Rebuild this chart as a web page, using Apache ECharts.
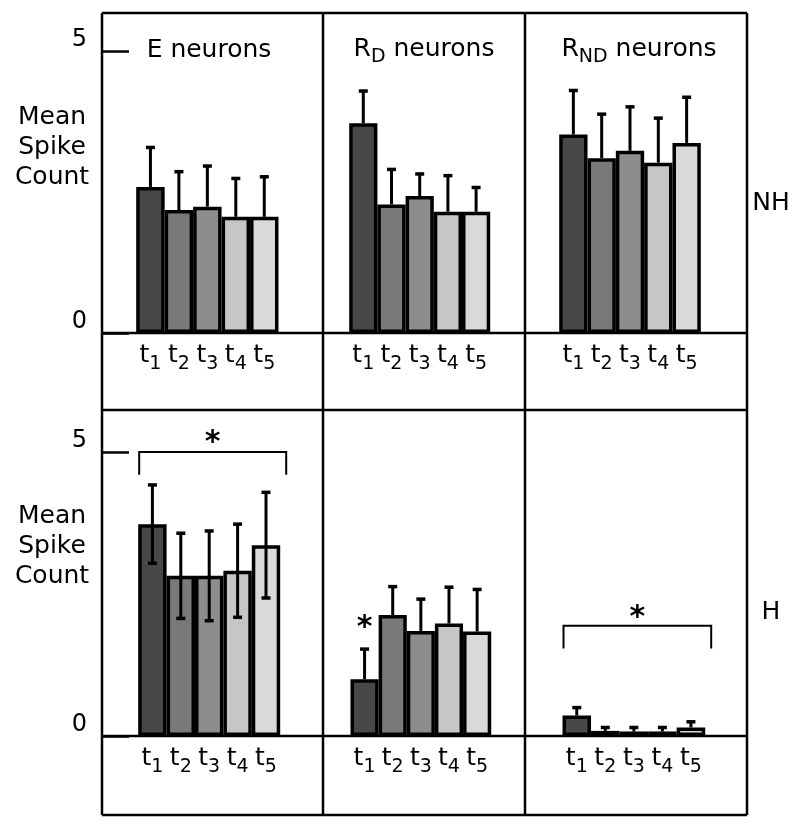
<!DOCTYPE html>
<html><head><meta charset="utf-8">
<script src="https://cdn.jsdelivr.net/npm/echarts@6/dist/echarts.min.js"></script>
<style>html,body{margin:0;padding:0;background:#fff}#c{width:800px;height:826px}</style>
</head><body><div id="c"></div><script>
// ---------- data ----------
const categories = ['t1', 't2', 't3', 't4', 't5'];
const barColors = ['#484848', '#797979', '#8d8d8d', '#c6c6c6', '#d9d9d9'];
const yTickValues = [0, 5];
const titleMain = ['E', 'R', 'R'];
const titleSub = ['', 'D', 'ND'];
const titleSuffix = ' neurons';
const rowLabels = ['NH', 'H'];
const yAxisTitle = 'Mean\nSpike\nCount';

// NH row (means and SD)
const nhE = [2.59, 2.18, 2.24, 2.06, 2.06];
const nhESd = [0.70, 0.68, 0.72, 0.68, 0.71];
const nhRD = [3.72, 2.28, 2.43, 2.15, 2.15];
const nhRDSd = [0.57, 0.62, 0.39, 0.64, 0.43];
const nhRND = [3.52, 3.10, 3.23, 3.02, 3.37];
const nhRNDSd = [0.78, 0.78, 0.78, 0.79, 0.81];
// H row
const hE = [3.73, 2.82, 2.82, 2.91, 3.36];
const hESd = [0.69, 0.75, 0.79, 0.82, 0.93];
const hRD = [1.00, 2.13, 1.85, 1.98, 1.84];
const hRDSd = [0.53, 0.50, 0.56, 0.64, 0.74];
const hRND = [0.36, 0.09, 0.08, 0.08, 0.15];
const hRNDSd = [0.14, 0.06, 0.07, 0.07, 0.10];

// significance annotations: [fromIndex, toIndex, bracketValue, dropValue, starValue]
const sigBracketHE = [0, 4, 5.0, 4.6, 5.15];
const sigBracketHRND = [0, 4, 1.94, 1.54, 2.08];
const sigStarHRD = [0, 1.9];

// ---------- layout ----------
const FONT = 'DejaVu Sans';
const panels = [
  {left: 136.2, width: 142.3, top: 51, height: 282, mean: nhE, sd: nhESd, two: false, yAxis: true},
  {left: 349.2, width: 141.0, top: 51, height: 282, mean: nhRD, sd: nhRDSd, two: false},
  {left: 559.2, width: 141.6, top: 51, height: 282, mean: nhRND, sd: nhRNDSd, two: false},
  {left: 138.2, width: 142.0, top: 452, height: 284, mean: hE, sd: hESd, two: true, yAxis: true},
  {left: 350.5, width: 140.7, top: 452, height: 284, mean: hRD, sd: hRDSd, two: false},
  {left: 562.5, width: 142.7, top: 452, height: 284, mean: hRND, sd: hRNDSd, two: false}
];
const TL = 102, TR = 747, TX1 = 323, TX2 = 525;

const grids = [], xAxes = [], yAxes = [], series = [];
panels.forEach((p, k) => {
  grids.push({left: p.left, top: p.top, width: p.width, height: p.height, containLabel: false});
  xAxes.push({
    type: 'category', gridIndex: k, data: categories,
    axisLine: {show: false}, axisTick: {show: false},
    axisLabel: {
      margin: 4, interval: 0,
      formatter: v => '{t|' + v.charAt(0) + '}{s|' + v.slice(1) + '}',
      rich: {
        t: {fontFamily: FONT, fontSize: 25, color: '#000'},
        s: {fontFamily: FONT, fontSize: 19, color: '#000', padding: [18, 0, 0, 0]}
      }
    }
  });
  yAxes.push({
    type: 'value', gridIndex: k, min: yTickValues[0], max: yTickValues[1], interval: yTickValues[1],
    show: !!p.yAxis, offset: p.left - TL,
    splitLine: {show: false},
    axisLine: {show: false},
    axisTick: {show: true, inside: true, length: 27, lineStyle: {color: '#000', width: 2.5}},
    axisLabel: {margin: 15, fontFamily: FONT, fontSize: 24, color: '#000',
      verticalAlign: 'bottom', lineHeight: 22}
  });
  series.push({
    type: 'bar', xAxisIndex: k, yAxisIndex: k, barCategoryGap: 0, barGap: 0,
    data: p.mean.map((v, i) => ({value: v, itemStyle: {color: barColors[i]}})),
    itemStyle: {borderColor: '#000', borderWidth: 3.5},
    emphasis: {disabled: true}, animation: false
  });
  series.push({
    type: 'custom', xAxisIndex: k, yAxisIndex: k, z: 5, animation: false,
    data: p.mean.map((v, i) => [i, v, p.sd[i]]),
    renderItem: (params, api) => {
      const i = api.value(0), m = api.value(1), s = api.value(2);
      const top = api.coord([i, m + s]);
      const bot = api.coord([i, p.two ? m - s : m]);
      const x = top[0], cw = 4.5;
      const st = {stroke: '#000', lineWidth: 3};
      const ch = [
        {type: 'line', shape: {x1: x, y1: top[1], x2: x, y2: bot[1]}, style: st},
        {type: 'line', shape: {x1: x - cw, y1: top[1], x2: x + cw, y2: top[1]}, style: {stroke: '#000', lineWidth: 3.5}}
      ];
      if (p.two) ch.push({type: 'line', shape: {x1: x - cw, y1: bot[1], x2: x + cw, y2: bot[1]}, style: {stroke: '#000', lineWidth: 3.5}});
      return {type: 'group', children: ch};
    }
  });
});

function bracketSeries(k, d) {
  return {
    type: 'custom', xAxisIndex: k, yAxisIndex: k, z: 6, animation: false, clip: false,
    data: [d],
    renderItem: (params, api) => {
      const a = api.coord([api.value(0), api.value(2)]);
      const b = api.coord([api.value(1), api.value(2)]);
      const yd = api.coord([api.value(0), api.value(3)])[1];
      const ys = api.coord([api.value(0), api.value(4)])[1];
      const bw = api.size([1, 0])[0];
      const xl = a[0] - bw / 2 + 1, xr = b[0] + bw / 2 + 6;
      return {type: 'group', children: [
        {type: 'polyline', shape: {points: [[xl, yd], [xl, a[1]], [xr, a[1]], [xr, yd]]},
         style: {stroke: '#000', lineWidth: 2, fill: null}},
        {type: 'text', style: {x: (xl + xr) / 2, y: ys, text: '*', fontFamily: FONT, fontSize: 30,
         fontWeight: 'bold', fill: '#000', align: 'center', verticalAlign: 'middle'}}
      ]};
    }
  };
}
series.push(bracketSeries(3, sigBracketHE));
series.push(bracketSeries(5, sigBracketHRND));
series.push({
  type: 'custom', xAxisIndex: 4, yAxisIndex: 4, z: 6, animation: false, clip: false,
  data: [sigStarHRD],
  renderItem: (params, api) => {
    const c = api.coord([api.value(0), api.value(1)]);
    return {type: 'text', style: {x: c[0], y: c[1], text: '*', fontFamily: FONT, fontSize: 30,
      fontWeight: 'bold', fill: '#000', align: 'center', verticalAlign: 'middle'}};
  }
});

// ---------- table lines & texts ----------
const LS = {stroke: '#000', lineWidth: 2.5};
const hLine = y => ({type: 'line', shape: {x1: TL, y1: y, x2: TR, y2: y}, style: LS, z: 10});
const vLine = x => ({type: 'line', shape: {x1: x, y1: 13, x2: x, y2: 815}, style: LS, z: 10});
const titleRich = {
  b: {fontFamily: FONT, fontSize: 25, color: '#000'},
  s: {fontFamily: FONT, fontSize: 19, color: '#000', padding: [16, 0, 0, 0]}
};
const titleX = [209, 424, 639];
const titleY = [50, 49, 49];
const graphics = [
  hLine(13), hLine(333), hLine(410), hLine(736), hLine(815),
  vLine(TL), vLine(TX1), vLine(TX2), vLine(TR)
];
titleMain.forEach((m, i) => {
  const txt = titleSub[i] ? '{b|' + m + '}{s|' + titleSub[i] + '}{b|' + titleSuffix + '}' : '{b|' + m + titleSuffix + '}';
  graphics.push({type: 'text', x: titleX[i], y: titleY[i], z: 10,
    style: {text: txt, rich: titleRich, align: 'center', verticalAlign: 'middle'}});
});
[203, 612].forEach((y, i) => graphics.push({type: 'text', x: 771, y: y, z: 10,
  style: {text: rowLabels[i], fontFamily: FONT, fontSize: 25, fill: '#000', align: 'center', verticalAlign: 'middle'}}));
[147, 546].forEach(y => graphics.push({type: 'text', x: 52, y: y, z: 10,
  style: {text: yAxisTitle, fontFamily: FONT, fontSize: 25, lineHeight: 30, fill: '#000', align: 'center', verticalAlign: 'middle'}}));

const chart = echarts.init(document.getElementById('c'), null, {renderer: 'canvas'});
chart.setOption({
  backgroundColor: '#fff', animation: false,
  grid: grids, xAxis: xAxes, yAxis: yAxes, series: series, graphic: graphics
});
</script></body></html>
